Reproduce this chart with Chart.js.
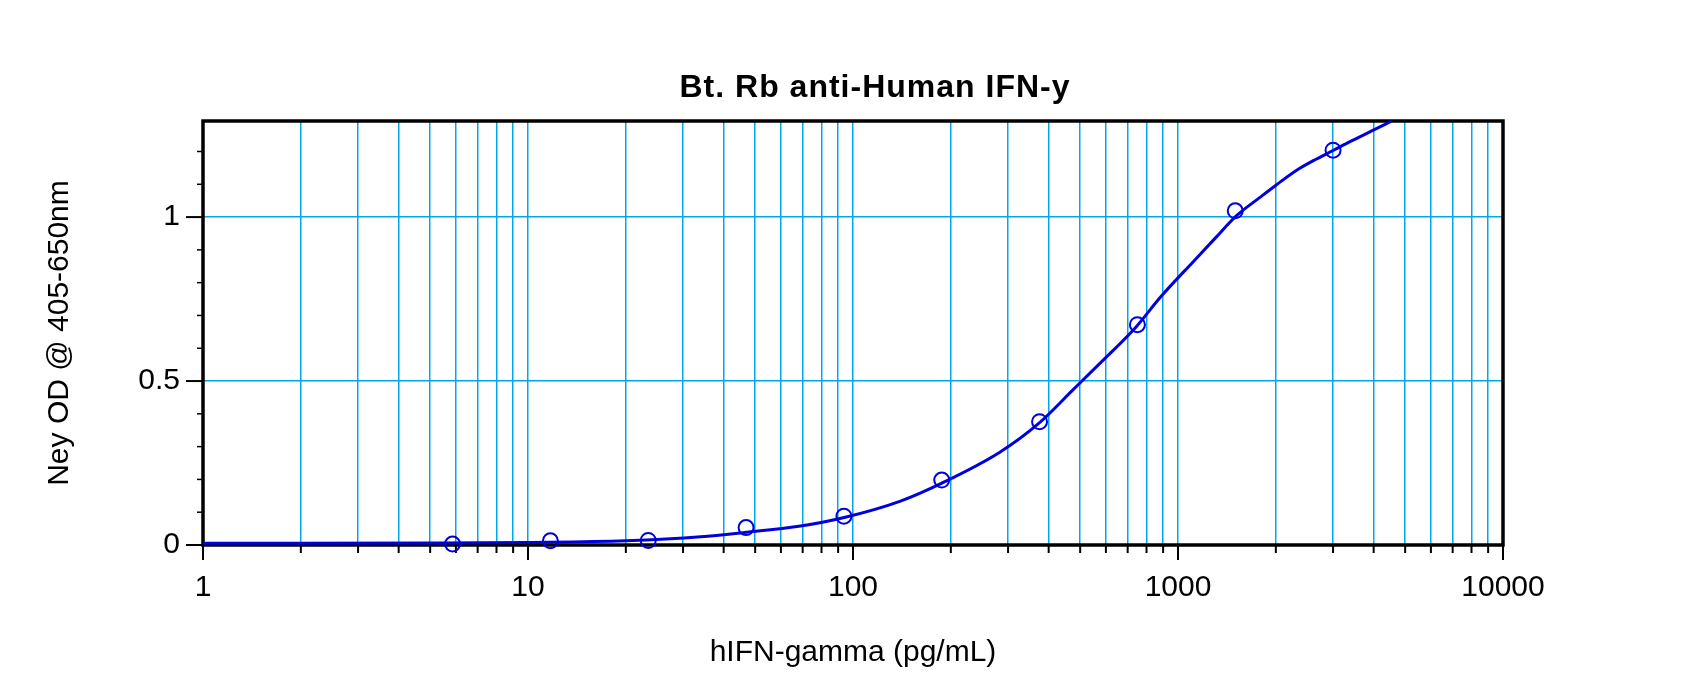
<!DOCTYPE html>
<html>
<head>
<meta charset="utf-8">
<script src="https://cdn.jsdelivr.net/npm/chart.js@4/dist/chart.umd.min.js"></script>
<style>
    body { margin: 0; background: #ffffff; }
    #wrap { width: 1700px; height: 689px; }
</style>
</head>
<body>
<div id="wrap"><canvas id="odChart"></canvas></div>
<script>
// ===== DATA =====
const chartTitle = 'Bt. Rb anti-Human IFN-y';
const xAxisTitle = 'hIFN-gamma (pg/mL)';
const yAxisTitle = 'Ney OD @ 405-650nm';

// standards (pg/mL) and measured OD
const stdConc = [5.86, 11.72, 23.44, 46.88, 93.75, 187.5, 375, 750, 1500, 3000];
const stdOD   = [0.003, 0.013, 0.014, 0.053, 0.088, 0.198, 0.376, 0.672, 1.019, 1.204];

// fitted curve
const curveConc = [1, 2, 5, 10, 20, 34, 47, 69, 94, 140, 187, 283, 372, 475, 575, 743, 885, 1114, 1300, 1517, 1787, 1987, 2318, 2608, 3000, 3382, 3990, 4544];
const curveOD   = [0.005, 0.005, 0.006, 0.008, 0.013, 0.025, 0.039, 0.058, 0.084, 0.134, 0.188, 0.283, 0.37, 0.473, 0.554, 0.665, 0.757, 0.864, 0.935, 1.005, 1.06, 1.095, 1.143, 1.172, 1.203, 1.23, 1.265, 1.293];

// axes
const xTickValues = [1, 2, 3, 4, 5, 6, 7, 8, 9,
                     10, 20, 30, 40, 50, 60, 70, 80, 90,
                     100, 200, 300, 400, 500, 600, 700, 800, 900,
                     1000, 2000, 3000, 4000, 5000, 6000, 7000, 8000, 9000,
                     10000];
const xLabelValues = [1, 10, 100, 1000, 10000];
const xLabels = ['1', '10', '100', '1000', '10000'];

const yTickValues = [0, 0.1, 0.2, 0.3, 0.4, 0.5, 0.6, 0.7, 0.8, 0.9, 1, 1.1, 1.2];
const yLabelValues = [0, 0.5, 1];
const yLabels = ['0', '0.5', '1'];

const GRID_COLOR = '#00a8e8';
const LINE_COLOR = '#0000dc';
const FONT = '"Liberation Sans", Arial, sans-serif';

// frame, tick marks and title
const framePlugin = {
    id: 'framePlugin',
    beforeDatasetsDraw(chart) {
        const ctx = chart.ctx;
        const a = chart.chartArea;
        const xs = chart.scales.x;
        const ys = chart.scales.y;
        ctx.save();
        ctx.strokeStyle = '#000000';

        xTickValues.forEach(function(v) {
            const px = xs.getPixelForValue(v);
            const len = xLabelValues.includes(v) ? 15 : 8;
            ctx.lineWidth = 2;
            ctx.beginPath();
            ctx.moveTo(px, a.bottom);
            ctx.lineTo(px, a.bottom + len);
            ctx.stroke();
        });

        yTickValues.forEach(function(v) {
            const py = ys.getPixelForValue(v);
            const len = yLabelValues.includes(v) ? 17 : 6;
            ctx.lineWidth = yLabelValues.includes(v) ? 2 : 1.5;
            ctx.beginPath();
            ctx.moveTo(a.left - len, py);
            ctx.lineTo(a.left, py);
            ctx.stroke();
        });

        ctx.lineWidth = 3.5;
        ctx.strokeRect(a.left, a.top, a.right - a.left, a.bottom - a.top);
        ctx.restore();
    },
    afterDraw(chart) {
        const ctx = chart.ctx;
        ctx.save();
        ctx.font = 'bold 32px ' + FONT;
        ctx.letterSpacing = '1px';
        ctx.fillStyle = '#000000';
        ctx.textAlign = 'center';
        ctx.textBaseline = 'alphabetic';
        ctx.fillText(chartTitle, 875, 97);
        ctx.restore();
    }
};

function initChart() {
    const canvas = document.getElementById('odChart');

    new Chart(canvas, {
        data: {
            datasets: [{
                type: 'line',
                label: 'Fit',
                data: curveConc.map(function(c, i) { return { x: c, y: curveOD[i] }; }),
                borderColor: LINE_COLOR,
                borderWidth: 3,
                pointRadius: 0,
                cubicInterpolationMode: 'monotone',
                fill: false,
                clip: false
            }, {
                type: 'scatter',
                label: 'Standards',
                data: stdConc.map(function(c, i) { return { x: c, y: stdOD[i] }; }),
                borderColor: LINE_COLOR,
                backgroundColor: 'rgba(0,0,0,0)',
                borderWidth: 2,
                pointRadius: 7.5,
                pointHoverRadius: 7.5,
                clip: false
            }]
        },
        options: {
            responsive: true,
            maintainAspectRatio: false,
            devicePixelRatio: 1,
            animation: false,
            layout: {
                padding: { top: 121, right: 197, left: 0, bottom: 0 }
            },
            scales: {
                x: {
                    type: 'logarithmic',
                    min: 1,
                    max: 10000,
                    afterBuildTicks: function(scale) {
                        scale.ticks = xTickValues.map(function(v) { return { value: v }; });
                    },
                    afterFit: function(scale) { scale.height = 144; },
                    ticks: {
                        autoSkip: false,
                        maxRotation: 0,
                        padding: 25,
                        color: '#000000',
                        font: { family: FONT, size: 30 },
                        callback: function(value) {
                            const i = xLabelValues.indexOf(value);
                            return i >= 0 ? xLabels[i] : '';
                        }
                    },
                    grid: { color: GRID_COLOR, lineWidth: 1.5, drawTicks: false },
                    border: { display: false },
                    title: {
                        display: true,
                        text: xAxisTitle,
                        color: '#000000',
                        font: { family: FONT, size: 30 },
                        padding: { top: 0, bottom: 18 }
                    }
                },
                y: {
                    type: 'linear',
                    min: 0,
                    max: 1.293,
                    afterBuildTicks: function(scale) {
                        scale.ticks = yTickValues.map(function(v) { return { value: v }; });
                    },
                    afterFit: function(scale) { scale.width = 203; },
                    ticks: {
                        autoSkip: false,
                        padding: 23,
                        color: '#000000',
                        font: { family: FONT, size: 30 },
                        callback: function(value) {
                            const i = yLabelValues.indexOf(value);
                            return i >= 0 ? yLabels[i] : '';
                        }
                    },
                    grid: {
                        drawTicks: false,
                        lineWidth: 1.5,
                        color: function(context) {
                            const v = context.tick ? context.tick.value : null;
                            return (v === 0.5 || v === 1) ? GRID_COLOR : 'rgba(0,0,0,0)';
                        }
                    },
                    border: { display: false },
                    title: {
                        display: true,
                        text: yAxisTitle,
                        color: '#000000',
                        font: { family: FONT, size: 30 },
                        padding: { top: 42, bottom: 0 }
                    }
                }
            },
            plugins: {
                legend: { display: false },
                tooltip: { enabled: false },
                title: { display: false }
            }
        },
        plugins: [framePlugin]
    });
}

document.addEventListener('DOMContentLoaded', initChart);
</script>
</body>
</html>
